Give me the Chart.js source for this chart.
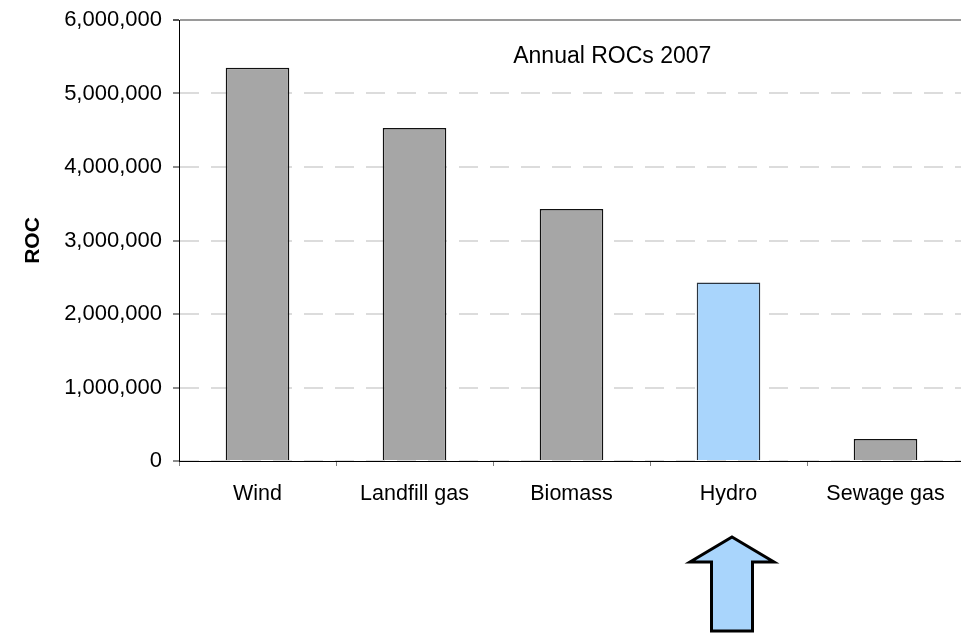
<!DOCTYPE html>
<html>
<head>
<meta charset="utf-8">
<script src="https://cdn.jsdelivr.net/npm/chart.js@4/dist/chart.umd.min.js"></script>
<style>
  html, body { margin: 0; padding: 0; background: #fff; overflow: hidden; }
  canvas { display: block; }
</style>
</head>
<body>
<canvas id="chart" width="980" height="633"></canvas>
<script>
// Renewables Obligation Certificates issued per technology, 2007
const categories = ['Wind', 'Landfill gas', 'Biomass', 'Hydro', 'Sewage gas'];
const rocs2007 = [5350000, 4530000, 3430000, 2430000, 300000];
const highlightedCategory = 'Hydro';
const yTickValues = [0, 1000000, 2000000, 3000000, 4000000, 5000000, 6000000];
const chartTitle = 'Annual ROCs 2007';
const yAxisTitle = 'ROC';

const FONT = "'Liberation Sans', Arial, Helvetica, sans-serif";
const GREY_FILL = '#a6a6a6';
const BLUE_FILL = '#a9d5fc';
const yMax = yTickValues[yTickValues.length - 1];
const numberFmt = new Intl.NumberFormat('en-US');

// Caption inside the plot and the up-arrow under the highlighted category
const overlayPlugin = {
  id: 'overlay',
  afterDraw(chart) {
    const { ctx, chartArea, scales } = chart;
    ctx.save();

    // caption
    ctx.font = `23px ${FONT}`;
    ctx.fillStyle = '#000';
    ctx.textAlign = 'center';
    ctx.textBaseline = 'middle';
    const cx = chartArea.left + (chartArea.right - chartArea.left) * 0.552;
    ctx.fillText(chartTitle, cx, chartArea.top + 37);

    // arrow pointing up at the highlighted bar
    const ax = scales.x.getPixelForValue(categories.indexOf(highlightedCategory)) + 3.5;
    const tipY = chart.height - 96;
    const headY = tipY + 25;
    const bottomY = chart.height - 2;
    const headHalf = 42;
    const shaftHalf = 20.5;
    ctx.beginPath();
    ctx.moveTo(ax, tipY);
    ctx.lineTo(ax + headHalf, headY);
    ctx.lineTo(ax + shaftHalf, headY);
    ctx.lineTo(ax + shaftHalf, bottomY);
    ctx.lineTo(ax - shaftHalf, bottomY);
    ctx.lineTo(ax - shaftHalf, headY);
    ctx.lineTo(ax - headHalf, headY);
    ctx.closePath();
    ctx.fillStyle = BLUE_FILL;
    ctx.fill();
    ctx.lineWidth = 3;
    ctx.lineJoin = 'miter';
    ctx.strokeStyle = '#000';
    ctx.stroke();

    ctx.restore();
  }
};

new Chart(document.getElementById('chart'), {
  type: 'bar',
  data: {
    labels: categories,
    datasets: [{
      data: rocs2007,
      backgroundColor: categories.map(c => c === highlightedCategory ? BLUE_FILL : GREY_FILL),
      borderColor: categories.map(c => c === highlightedCategory ? '#2b3540' : '#111'),
      borderWidth: 1.5,
      borderSkipped: 'bottom',
      categoryPercentage: 1,
      barPercentage: 0.405
    }]
  },
  options: {
    responsive: false,
    animation: false,
    devicePixelRatio: 1,
    layout: { padding: { top: 20, right: 16, bottom: 0, left: 0 } },
    plugins: {
      legend: { display: false },
      tooltip: { enabled: false },
      title: { display: false }
    },
    scales: {
      x: {
        offset: true,
        grid: {
          display: true,
          offset: true,
          drawOnChartArea: false,
          drawTicks: true,
          tickLength: 5,
          tickColor: '#7f7f7f'
        },
        border: { display: true, color: '#000', width: 1 },
        ticks: {
          color: '#000',
          padding: 15,
          font: { family: FONT, size: 21.5 },
          maxRotation: 0
        },
        afterFit(scale) { scale.height = 172; }
      },
      y: {
        min: 0,
        max: yMax,
        afterBuildTicks(scale) {
          scale.ticks = yTickValues.map(v => ({ value: v }));
        },
        grid: {
          drawTicks: true,
          tickLength: 6,
          tickColor: ctx => ctx.tick && ctx.tick.value === yMax ? '#555' : '#8c8c8c',
          color: ctx => ctx.tick && ctx.tick.value === yMax ? '#9a9a9a' : '#dcdcdc',
          lineWidth: 2
        },
        border: {
          display: true,
          color: '#000',
          width: 1,
          dash: ctx => ctx.tick && ctx.tick.value === yMax ? [] : [19, 12]
        },
        ticks: {
          color: '#000',
          padding: 11,
          font: { family: FONT, size: 22 },
          callback: v => numberFmt.format(v)
        },
        title: {
          display: true,
          text: yAxisTitle,
          color: '#000',
          font: { family: FONT, size: 21, weight: 'bold' },
          padding: { top: 21, bottom: 0 }
        },
        afterFit(scale) {
          scale.width = 179;
          scale.paddingTop = 0;
          scale.paddingBottom = 0;
        }
      }
    }
  },
  plugins: [overlayPlugin]
});
</script>
</body>
</html>
